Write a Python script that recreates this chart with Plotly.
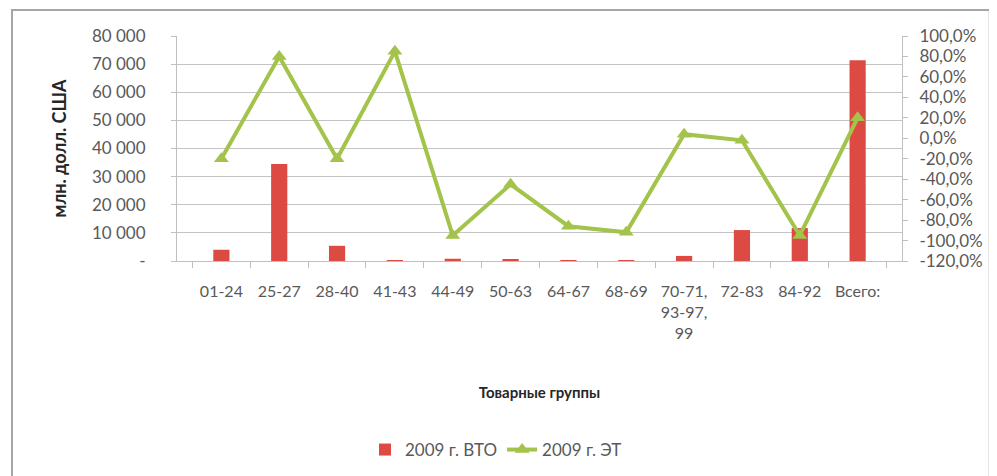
import plotly.graph_objects as go

categories = ["01-24", "25-27", "28-40", "41-43", "44-49", "50-63", "64-67",
              "68-69", "70-71,<br>93-97,<br>99", "72-83", "84-92", "Всего:"]
wto_2009 = [4000, 34500, 5400, 300, 800, 400, 300, 300, 1800, 11000, 11700, 71400]
et_2009 = [-20, 80, -20, 85, -95, -45, -86, -92, 4, -2, -95, 20]

left_ticks = [0, 10000, 20000, 30000, 40000, 50000, 60000, 70000, 80000]
left_text = ["-", "10 000", "20 000", "30 000", "40 000", "50 000", "60 000", "70 000", "80 000"]
right_ticks = list(range(-120, 101, 20))
right_text = [f"{v},0%" for v in right_ticks]

grey = "#595959"
font = "Lato, 'Open Sans', sans-serif"

fig = go.Figure()
fig.add_trace(go.Bar(
    x=categories, y=wto_2009, name="2009 г. ВТО",
    marker=dict(color="#dc4a43", line=dict(width=0)),
))
fig.add_trace(go.Scatter(
    x=categories, y=et_2009, name="2009 г. ЭТ", yaxis="y2",
    mode="lines+markers",
    line=dict(color="#a3c34a", width=4),
    marker=dict(symbol="triangle-up", size=13, color="#a3c34a"),
))

# the page body has an 8px margin, so margins are reduced by 8
fig.update_layout(
    width=997, height=476,
    margin=dict(l=169, r=103, t=28, b=223),
    paper_bgcolor="white", plot_bgcolor="white",
    font=dict(family=font, size=16, color=grey),
    bargap=0.72,
    showlegend=True,
    legend=dict(orientation="h", x=0.44, xanchor="center", y=-0.84, yanchor="middle",
                font=dict(size=17, color=grey), traceorder="normal"),
    xaxis=dict(
        showgrid=False, showline=True, linecolor="#bfbfbf",
        ticks="outside", tickson="boundaries", ticklen=6, tickcolor="#bfbfbf",
        tickangle=0, ticklabelstandoff=16, tickfont=dict(size=16),
        title=dict(text="<b>Товарные группы</b>", font=dict(size=15, color="#262626"),
                   standoff=46),
    ),
    yaxis=dict(
        range=[0, 80000], tickvals=left_ticks, ticktext=left_text,
        showgrid=True, gridcolor="#c4c4c4", gridwidth=1,
        showline=True, linecolor="#bfbfbf", ticks="outside", ticklen=5,
        tickcolor="#bfbfbf", zeroline=False, ticklabelstandoff=22,
        tickfont=dict(size=17),
        title=dict(text="<b>млн. долл. США</b>", font=dict(size=18, color="#262626"),
                   standoff=20),
    ),
    yaxis2=dict(
        range=[-120, 100], overlaying="y", side="right",
        tickvals=right_ticks, ticktext=right_text,
        showgrid=False, zeroline=False, tickfont=dict(size=17),
        showline=True, linecolor="#bfbfbf", ticks="outside", ticklen=5,
        tickcolor="#bfbfbf", ticklabelstandoff=8,
    ),
    shapes=[dict(type="rect", xref="paper", yref="paper",
                 x0=-0.2276, x1=1.121, y0=-1.0, y1=1.1156,
                 line=dict(color="#a6a6a6", width=2))],
)

fig.write_html("out.html")
